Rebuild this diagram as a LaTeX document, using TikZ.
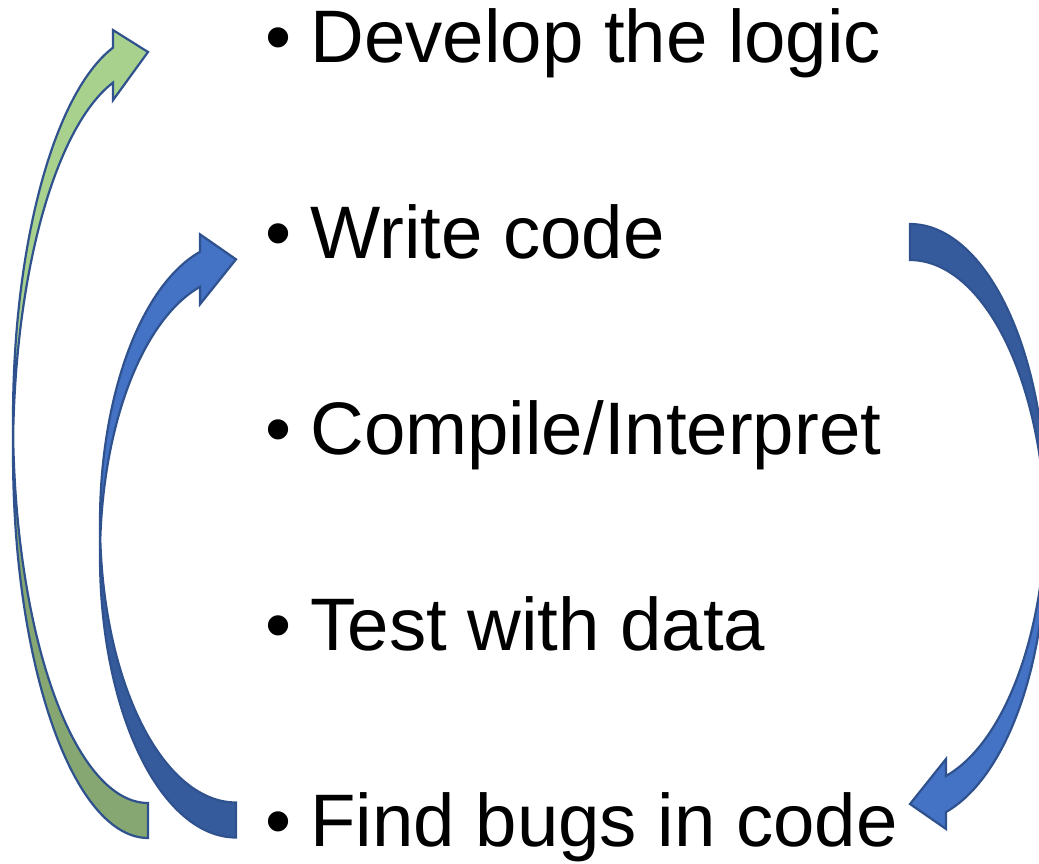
\documentclass[tikz,border=0pt]{standalone}
\usepackage{fontspec}
\setmainfont{Liberation Sans}
\definecolor{gfront}{HTML}{A9D18E}
\definecolor{gback}{HTML}{87A772}
\definecolor{bfront}{HTML}{4472C4}
\definecolor{bback}{HTML}{365B9D}
\definecolor{outl}{HTML}{2F528F}
% elliptical arc as a sampled plot: center x, center y, rx, ry, t1, t2
\newcommand{\ellarc}[6]{plot[domain=#5:#6, samples=60, variable=\t] ({#1+#3*cos(\t)},{#2+#4*sin(\t)})}
\newcommand{\ellto}[6]{-- plot[domain=#5:#6, samples=60, variable=\t] ({#1+#3*cos(\t)},{#2+#4*sin(\t)})}
\tikzset{
  txt/.style={inner sep=0pt, outer sep=0pt, anchor=base west, font=\fontsize{74.4}{80}\selectfont, text=black},
  arrowline/.style={draw=outl, line width=2.2pt, line join=miter, fill=none},
}
\begin{document}
\begin{tikzpicture}[x=1pt, y=-1pt]
\useasboundingbox (0,0) rectangle (1039,863);
\clip (0,0) rectangle (1039,863);

% ---------- green curved arrow (Find bugs -> Develop the logic) ----------
\fill[gfront] \ellarc{148}{453.75}{135}{384.25}{180}{254.97} -- (113.06,100.1) -- (148,52) -- (113.06,30.1)
   \ellto{148}{418.75}{135}{384.25}{254.97}{180} -- cycle;
\fill[gback] \ellarc{148}{418.75}{135}{384.25}{90}{177.39} \ellto{148}{453.75}{135}{384.25}{182.61}{90} -- cycle;
\path[arrowline] \ellarc{148}{453.75}{135}{384.25}{180}{254.97} -- (113.06,100.1) -- (148,52) -- (113.06,30.1)
   \ellto{148}{418.75}{135}{384.25}{254.97}{180}
   \ellto{148}{453.75}{135}{384.25}{180}{90} -- (148,803)
   \ellto{148}{418.75}{135}{384.25}{90}{177.39};

% ---------- left blue curved arrow (Find bugs -> Write code) ----------
\fill[bfront] \ellarc{236}{557.15}{136}{280.35}{180}{254.65} -- (200,304.31) -- (236,259.31) -- (200,234.31)
   \ellto{236}{522.15}{136}{280.35}{254.65}{180} -- cycle;
\fill[bback] \ellarc{236}{522.15}{136}{280.35}{90}{176.42} \ellto{236}{557.15}{136}{280.35}{183.58}{90} -- cycle;
\path[arrowline] \ellarc{236}{557.15}{136}{280.35}{180}{254.65} -- (200,304.31) -- (236,259.31) -- (200,234.31)
   \ellto{236}{522.15}{136}{280.35}{254.65}{180}
   \ellto{236}{557.15}{136}{280.35}{180}{90} -- (236,802.5)
   \ellto{236}{522.15}{136}{280.35}{90}{176.42};

% ---------- right blue curved arrow (Write code -> Find bugs) ----------
\fill[bfront] \ellarc{910}{505}{136}{281}{0}{74.65} -- (946,758.97) -- (910,804) -- (946,828.97)
   \ellto{910}{541}{136}{281}{74.65}{0} -- cycle;
\fill[bback] \ellarc{910}{541}{136}{281}{-90}{-3.67} \ellto{910}{505}{136}{281}{3.67}{-90} -- cycle;
\path[arrowline] \ellarc{910}{505}{136}{281}{0}{74.65} -- (946,758.97) -- (910,804) -- (946,828.97)
   \ellto{910}{541}{136}{281}{74.65}{0}
   \ellto{910}{505}{136}{281}{0}{-90} -- (910,260)
   \ellto{910}{541}{136}{281}{-90}{-3.67};

% ---------- bullet list ----------
\node[txt] (b1) at (265,62) {\textbullet};
\node[txt] (l1) at (310.5,62) {Develop the logic};
\node[txt] (b2) at (265,258) {\textbullet};
\node[txt] (l2) at (310.5,258) {Write code};
\node[txt] (b3) at (265,454) {\textbullet};
\node[txt] (l3) at (310.5,454) {Compile/Interpret};
\node[txt] (b4) at (265,650) {\textbullet};
\node[txt] (l4) at (310.5,650) {Test with data};
\node[txt] (b5) at (265,846) {\textbullet};
\node[txt] (l5) at (310.5,846) {Find bugs in code};
\end{tikzpicture}
\end{document}
